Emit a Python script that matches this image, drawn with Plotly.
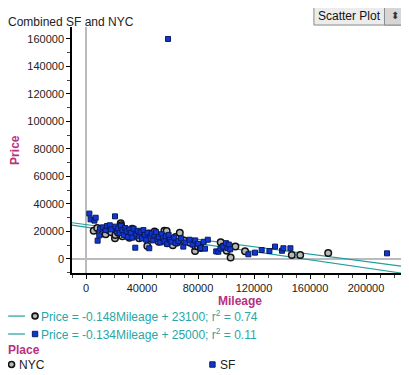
import plotly.graph_objects as go

# ---- data ----
sf_mileage = [2400, 3300, 6000, 6900, 8300, 9500, 10000, 12000, 14000, 15000, 17000, 18000, 20700, 21000,
              22000, 23000, 24000, 25000, 26000, 27000, 28000, 29000, 30000, 31000, 32000, 33000, 34000,
              35200, 36000, 37000, 38000, 39000, 40000, 41000, 42000, 43000, 44000, 45200, 46000, 47000,
              48000, 49000, 50000, 51000, 52000, 53000, 54000, 55000, 56000, 57000, 58000, 58600, 59000,
              60000, 61000, 63000, 64000, 66000, 68000, 69500, 71000, 74000, 76000, 78000, 80000, 82000,
              84000, 85000, 87000, 93000, 94500, 96000, 98000, 100000, 101000, 102000, 103000, 116000,
              120700, 125500, 131000, 135000, 140000, 141000, 146000, 215000]
sf_price = [33000, 28800, 27900, 30000, 13300, 17200, 22000, 23000, 21000, 24000, 24500, 21500, 31000, 23500,
            20000, 22000, 19000, 24000, 21000, 17500, 22500, 20000, 16000, 21500, 19000, 15500, 22000,
            8200, 18000, 20500, 16500, 19500, 15000, 21000, 17500, 14000, 19000, 7800, 16500, 18500,
            13500, 17000, 19500, 14500, 16000, 12000, 18000, 15000, 13000, 16500, 11000, 160000, 17500,
            14000, 12500, 15500, 11500, 13000, 15000, 9000, 12000, 14000, 10500, 13500, 11000, 8000,
            12500, 7500, 14000, 5500, 5300, 7500, 9000, 11500, 8000, 10500, 7000, 3400,
            4600, 6500, 5800, 9000, 6000, 7800, 7800, 4100]

nyc_mileage = [5500, 8000, 10000, 12000, 14000, 16000, 18000, 20700, 21000, 23000, 24800, 25000, 26000,
               28000, 30000, 31000, 33000, 35000, 37000, 38000, 40000, 42000, 43800, 45000, 47000, 49000,
               50000, 52000, 54000, 56000, 57600, 58000, 60000, 62000, 64000, 65000, 67000, 70000, 74000,
               77900, 78000, 80000, 82000, 96200, 98000, 100500, 103300, 106700, 113600, 147000, 153000, 173000]
nyc_price = [20600, 22500, 19500, 18700, 18000, 21000, 19500, 15000, 17500, 19000, 26000, 24500, 16500,
             20000, 18000, 15500, 22000, 17000, 19000, 15000, 17500, 16000, 9500, 18500, 14500, 20000,
             17000, 12500, 15500, 20500, 20400, 11500, 14500, 10000, 16000, 12000, 19000, 13500, 12000,
             5800, 9500, 9000, 8000, 12100, 9000, 6000, 1000, 9000, 5600, 2900, 2900, 4400]

fit_slope = [-0.148, -0.134]          # NYC, SF
fit_intercept = [23100, 25000]
fit_r2 = [0.74, 0.11]
places = ["NYC", "SF"]

x_range = [-10000, 230000]
y_range = [-10200, 168700]

TEAL = "#1f9e9e"
TEAL_TXT = "#2aa5a5"
MAG = "#b8307f"
FONT = "Liberation Sans, Arial, sans-serif"

fig = go.Figure()

# regression lines
for s, b in zip(fit_slope, fit_intercept):
    fig.add_trace(go.Scatter(x=x_range, y=[b + s * x_range[0], b + s * x_range[1]], mode="lines",
                             line=dict(color=TEAL, width=1.2), hoverinfo="skip", showlegend=False))

fig.add_trace(go.Scatter(x=nyc_mileage, y=nyc_price, mode="markers", name="NYC", showlegend=False,
                         marker=dict(symbol="circle", size=6.5, color="#b8b8b8",
                                     line=dict(color="#111111", width=1.5))))
fig.add_trace(go.Scatter(x=sf_mileage, y=sf_price, mode="markers", name="SF", showlegend=False,
                         marker=dict(symbol="square", size=5, color="#1237d0",
                                     line=dict(color="#0a1a60", width=1))))

fig.update_layout(
    width=409, height=375,
    margin=dict(l=64, r=9, t=19, b=110),
    paper_bgcolor="white", plot_bgcolor="white",
    font=dict(family=FONT, size=11, color="#222"),
    xaxis=dict(range=x_range, tickvals=[0, 40000, 80000, 120000, 160000, 200000],
               ticktext=["0", "40000", "80000", "120000", "160000", "200000"],
               ticks="outside", ticklen=4, tickcolor="#000", showgrid=False, automargin=False,
               minor=dict(dtick=10000, ticks="outside", ticklen=3, tickcolor="#444", showgrid=False),
               showline=True, linecolor="#000", linewidth=1.5,
               zeroline=True, zerolinecolor="#bbbbbb", zerolinewidth=1.5,
               tickfont=dict(size=11, color="#222")),
    yaxis=dict(range=y_range, tickvals=[0, 20000, 40000, 60000, 80000, 100000, 120000, 140000, 160000],
               ticktext=["0", "20000", "40000", "60000", "80000", "100000", "120000", "140000", "160000"],
               ticks="outside", ticklen=4, tickcolor="#000", showgrid=False, automargin=False,
               minor=dict(dtick=10000, ticks="outside", ticklen=3, tickcolor="#444", showgrid=False),
               showline=True, linecolor="#000", linewidth=1.5,
               zeroline=True, zerolinecolor="#bbbbbb", zerolinewidth=1.5,
               tickfont=dict(size=11, color="#222")),
)

ann = []
shapes = []
# title
ann.append(dict(xref="paper", yref="paper", x=-0.195, y=1.02, xanchor="left", yanchor="middle",
                text="Combined SF and NYC", showarrow=False, font=dict(size=12, color="#222")))
# axis titles
ann.append(dict(xref="paper", yref="paper", x=-0.170, y=0.5, xanchor="center", yanchor="middle",
                text="<b>Price</b>", textangle=-90, showarrow=False, font=dict(size=12, color=MAG)))
ann.append(dict(xref="paper", yref="paper", x=0.5, y=-0.112, xanchor="center", yanchor="middle",
                text="<b>Mileage</b>", showarrow=False, font=dict(size=12, color=MAG)))
# scatter plot button
shapes.append(dict(type="rect", xref="paper", yref="paper", x0=0.72, x1=0.991, y0=1.008, y1=1.081,
                   fillcolor="#ececec", line=dict(color="#8a8a8a", width=1)))
shapes.append(dict(type="rect", xref="paper", yref="paper", x0=0.93, x1=0.991, y0=1.008, y1=1.081,
                   fillcolor="#d6d6d6", line=dict(color="#8a8a8a", width=1)))
ann.append(dict(xref="paper", yref="paper", x=0.825, y=1.046, xanchor="center", yanchor="middle",
                text="Scatter Plot", showarrow=False, font=dict(size=12, color="#111")))
ann.append(dict(xref="paper", yref="paper", x=0.961, y=1.046, xanchor="center", yanchor="middle",
                text="⬍", showarrow=False, font=dict(size=10, color="#333")))

# regression legend rows
row_y = [-0.175, -0.248]
for i in range(2):
    y = row_y[i]
    shapes.append(dict(type="line", xref="paper", yref="paper", x0=-0.190, x1=-0.140, y0=y, y1=y,
                       line=dict(color=TEAL, width=1.2)))
    txt = "Price = %gMileage + %d; r<sup>2</sup> = %.2f" % (fit_slope[i], fit_intercept[i], fit_r2[i])
    ann.append(dict(xref="paper", yref="paper", x=-0.098, y=y, xanchor="left", yanchor="middle",
                    text=txt, showarrow=False, font=dict(size=12, color=TEAL_TXT)))

def circ(xc, yc):
    return dict(type="circle", xref="paper", yref="paper", x0=xc - 0.009, x1=xc + 0.009,
                y0=yc - 0.012, y1=yc + 0.012, fillcolor="#b8b8b8", line=dict(color="#111", width=1.6))

def sq(xc, yc):
    return dict(type="rect", xref="paper", yref="paper", x0=xc - 0.008, x1=xc + 0.008,
                y0=yc - 0.011, y1=yc + 0.011, fillcolor="#1237d0", line=dict(color="#0a1a60", width=1))

shapes.append(circ(-0.110, row_y[0]))
shapes.append(sq(-0.110, row_y[1]))

ann.append(dict(xref="paper", yref="paper", x=-0.197, y=-0.315, xanchor="left", yanchor="middle",
                text="<b>Place</b>", showarrow=False, font=dict(size=12, color=MAG)))
shapes.append(circ(-0.180, -0.372))
ann.append(dict(xref="paper", yref="paper", x=-0.165, y=-0.372, xanchor="left", yanchor="middle",
                text=places[0], showarrow=False, font=dict(size=12, color="#222")))
shapes.append(sq(0.418, -0.372))
ann.append(dict(xref="paper", yref="paper", x=0.436, y=-0.372, xanchor="left", yanchor="middle",
                text=places[1], showarrow=False, font=dict(size=12, color="#222")))

fig.update_layout(annotations=ann, shapes=shapes)
fig.write_html("out.html")
